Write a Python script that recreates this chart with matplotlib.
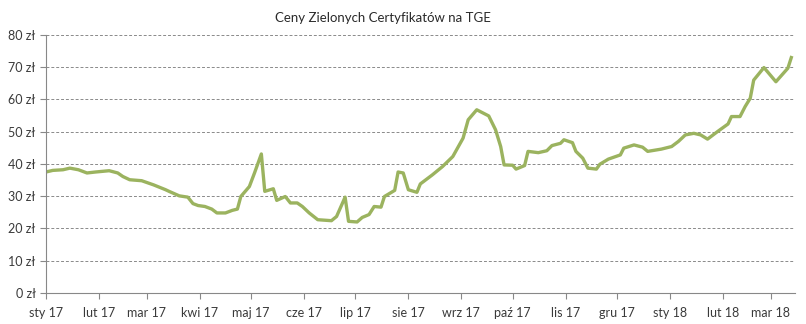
import numpy as np
import pandas as pd
import matplotlib
matplotlib.use('Agg')
import matplotlib.pyplot as plt
from matplotlib.ticker import FuncFormatter

dates = ['2017-01-01', '2017-01-05', '2017-01-11', '2017-01-15', '2017-01-20', '2017-01-25',
         '2017-01-30', '2017-02-07', '2017-02-12', '2017-02-15', '2017-02-19', '2017-02-26',
         '2017-03-05', '2017-03-12', '2017-03-14', '2017-03-20', '2017-03-25', '2017-03-28',
         '2017-03-31', '2017-04-04', '2017-04-08', '2017-04-11', '2017-04-16', '2017-04-20',
         '2017-04-23', '2017-04-25', '2017-04-30', '2017-05-03', '2017-05-07', '2017-05-09',
         '2017-05-14', '2017-05-16', '2017-05-21', '2017-05-24', '2017-05-28', '2017-05-31',
         '2017-06-04', '2017-06-09', '2017-06-17', '2017-06-20', '2017-06-25', '2017-06-27',
         '2017-07-02', '2017-07-05', '2017-07-09', '2017-07-12', '2017-07-16', '2017-07-18',
         '2017-07-24', '2017-07-26', '2017-07-29', '2017-08-01', '2017-08-06', '2017-08-08',
         '2017-08-15', '2017-08-21', '2017-08-27', '2017-09-02', '2017-09-05', '2017-09-10',
         '2017-09-17', '2017-09-21', '2017-09-24', '2017-09-26', '2017-10-01', '2017-10-03',
         '2017-10-08', '2017-10-10', '2017-10-16', '2017-10-21', '2017-10-24', '2017-10-29',
         '2017-10-31', '2017-11-05', '2017-11-07', '2017-11-11', '2017-11-14', '2017-11-19',
         '2017-11-21', '2017-11-26', '2017-12-03', '2017-12-05', '2017-12-11', '2017-12-16',
         '2017-12-19', '2017-12-27', '2018-01-02', '2018-01-06', '2018-01-10', '2018-01-15',
         '2018-01-19', '2018-01-23', '2018-01-29', '2018-02-04', '2018-02-06', '2018-02-11',
         '2018-02-14', '2018-02-17', '2018-02-19', '2018-02-25', '2018-03-04', '2018-03-11',
         '2018-03-13']
prices = [37.5, 38.0, 38.2, 38.7, 38.2, 37.2,
          37.5, 37.9, 37.2, 36.1, 35.1, 34.8,
          33.5, 32.0, 31.5, 30.1, 29.7, 27.7,
          27.1, 26.8, 26.0, 24.8, 24.8, 25.6,
          26.0, 29.9, 33.0, 37.2, 43.1, 31.5,
          32.3, 28.7, 29.9, 27.9, 27.9, 26.8,
          24.8, 22.7, 22.4, 23.7, 29.7, 22.2,
          22.0, 23.4, 24.3, 26.8, 26.6, 29.9,
          31.8, 37.5, 37.2, 32.0, 31.2, 33.8,
          36.6, 39.2, 42.3, 48.0, 53.7, 56.8,
          54.9, 50.6, 45.4, 39.7, 39.6, 38.4,
          39.5, 43.9, 43.5, 44.1, 45.7, 46.4,
          47.5, 46.6, 43.9, 41.8, 38.7, 38.4,
          39.9, 41.5, 42.8, 44.9, 45.9, 45.2,
          43.9, 44.6, 45.4, 47.0, 49.0, 49.5,
          49.0, 47.7, 50.1, 52.4, 54.7, 54.7,
          57.8, 60.4, 66.0, 69.9, 65.5, 69.7,
          73.0]
month_labels = ['sty 17', 'lut 17', 'mar 17', 'kwi 17', 'maj 17', 'cze 17', 'lip 17', 'sie 17',
                'wrz 17', 'paź 17', 'lis 17', 'gru 17', 'sty 18', 'lut 18', 'mar 18']

plt.rcParams['font.family'] = ['Lato', 'DejaVu Sans']
x = pd.to_datetime(dates)
ticks = pd.date_range('2017-01-01', periods=len(month_labels), freq='MS')

fig = plt.figure(figsize=(8.06, 3.24), dpi=100)
ax = fig.add_axes([0.057, 0.096, 0.929, 0.796])
ax.plot(x, prices, color='#9bb35f', lw=2.4)

ax.set_ylim(0, 80)
ax.set_xlim(pd.Timestamp('2017-01-01'), pd.Timestamp('2018-03-15'))
ax.set_yticks(np.arange(0, 81, 10))
ax.yaxis.set_major_formatter(FuncFormatter(lambda v, p: '{:d} zł'.format(int(v))))
ax.set_xticks(ticks)
ax.set_xticklabels(month_labels)
ax.grid(axis='y', color='#8a8a8a', ls=(0, (3, 2)), lw=0.7)
ax.set_axisbelow(True)
for s in ['top', 'right']:
    ax.spines[s].set_visible(False)
for s in ['left', 'bottom']:
    ax.spines[s].set_color('#888888')
ax.tick_params(axis='both', colors='#888888', labelcolor='#3a3a3a', labelsize=9, length=4)
ax.tick_params(axis='x', pad=6)
fig.text(0.475, 0.945, 'Ceny Zielonych Certyfikatów na TGE', ha='center', va='center',
         fontsize=9.5, color='#2a2a2a')

plt.savefig('out.png', dpi=100)
